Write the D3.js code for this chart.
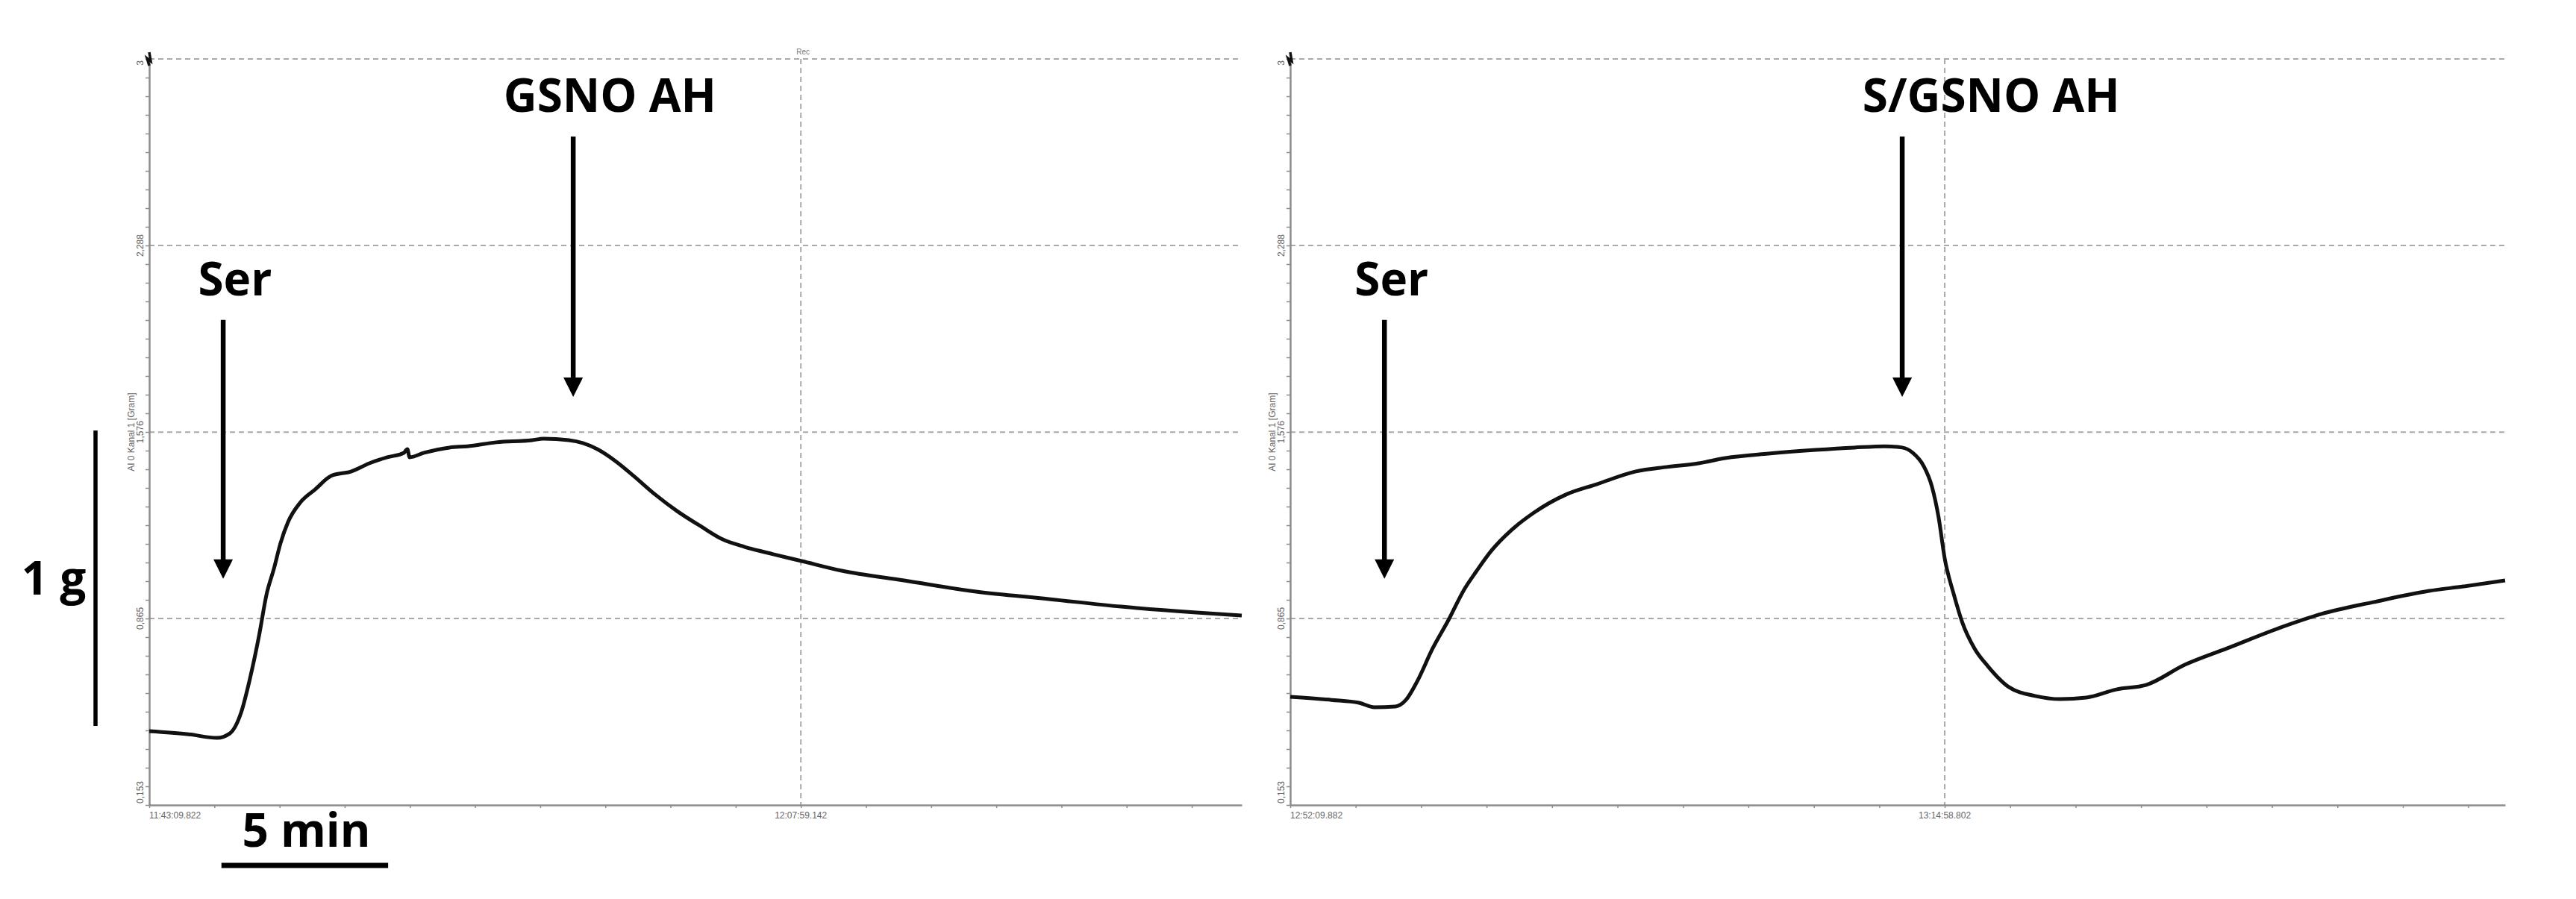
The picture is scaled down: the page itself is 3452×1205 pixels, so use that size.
<!DOCTYPE html>
<html>
<head>
<meta charset="utf-8">
<script src="https://cdn.jsdelivr.net/npm/d3@7"></script>
<style>
  body { margin: 0; background: #fff; }
  svg { display: block; }
</style>
</head>
<body>
<div id="chart"></div>
<script>
// time = seconds since the start of each recording, force = grams
const yTicks = [0.153, 0.865, 1.576, 2.288, 3];
const yTickLabels = ["0,153", "0,865", "1,576", "2,288", "3"];
const yTitle = "AI 0 Kanal 1 [Gram]";

const leftTimeLabels = ["11:43:09.822", "12:07:59.142"];
const leftMarkT = 1489.32;
const leftEndT = 2497;
const leftT = [0, 90, 155, 184, 210, 230, 251, 268, 285, 300, 317, 346, 379, 416, 462, 503, 544, 582, 590, 595, 628, 686, 727, 793, 875, 901, 959, 991, 1024, 1066, 1107, 1157, 1206, 1262, 1310, 1361, 1426, 1491, 1583, 1725, 1890, 2056, 2221, 2387, 2497];
const leftG = [0.435, 0.423, 0.409, 0.426, 0.506, 0.634, 0.799, 0.956, 1.055, 1.152, 1.232, 1.309, 1.357, 1.409, 1.426, 1.457, 1.480, 1.497, 1.511, 1.480, 1.497, 1.517, 1.522, 1.537, 1.545, 1.551, 1.545, 1.534, 1.511, 1.465, 1.409, 1.337, 1.275, 1.215, 1.167, 1.138, 1.110, 1.084, 1.047, 1.010, 0.967, 0.939, 0.910, 0.888, 0.876];

const rightTimeLabels = ["12:52:09.882", "13:14:58.802"];
const rightMarkT = 1368.92;
const rightEndT = 2541;
const rightT = [0, 86, 144, 176, 220, 242, 265, 298, 331, 364, 389, 421, 462, 510, 576, 641, 723, 788, 854, 910, 1000, 1099, 1180, 1244, 1280, 1302, 1325, 1342, 1356, 1369, 1388, 1406, 1431, 1459, 1503, 1558, 1611, 1665, 1728, 1790, 1871, 1960, 2068, 2157, 2265, 2382, 2454, 2541];
const rightG = [0.566, 0.554, 0.543, 0.526, 0.529, 0.554, 0.623, 0.751, 0.859, 0.976, 1.044, 1.124, 1.201, 1.269, 1.337, 1.377, 1.426, 1.443, 1.457, 1.477, 1.494, 1.508, 1.517, 1.522, 1.517, 1.497, 1.446, 1.369, 1.252, 1.093, 0.956, 0.848, 0.751, 0.683, 0.603, 0.569, 0.557, 0.563, 0.594, 0.611, 0.688, 0.751, 0.828, 0.882, 0.927, 0.970, 0.987, 1.010];

// additions: arrow time, arrow top / tip (g), label time and label baseline (g)
const leftNotes = [
  { label: "Ser", t: 169, top: 2.004, tip: 1.016, labelT: 196, labelG: 2.097 },
  { label: "GSNO AH", t: 969, top: 2.704, tip: 1.710, labelT: 1053, labelG: 2.798 }
];
const rightNotes = [
  { label: "Ser", t: 197, top: 2.004, tip: 1.016, labelT: 212, labelG: 2.097 },
  { label: "S/GSNO AH", t: 1280, top: 2.704, tip: 1.710, labelT: 1466, labelG: 2.798 }
];

// scale bars as drawn in the figure (left panel units)
const barG = [0.455, 1.582];
const barT = [165, 546];

const W = 3452, H = 1205;
const yTopPx = 79, yBotPx = 1079;
const axisColor = "#8c8c8c", gridColor = "#a9a9a9", textColor = "#666";
const boldFont = "'Open Sans', 'Noto Sans', sans-serif";
const smallFont = "'Liberation Sans', Arial, sans-serif";
const bigSize = "62px";

const svg = d3.select("#chart").append("svg")
  .attr("width", W).attr("height", H)
  .style("background", "#fff");

const y = d3.scaleLinear().domain([0.153, 3]).range([yBotPx, yTopPx]);
const yMinor = d3.range(41).map(i => 0.153 + i * (3 - 0.153) / 40);

function drawPanel(p) {
  const x = d3.scaleLinear().domain([0, p.endT]).range([p.x0, p.x1]);
  const g = svg.append("g");

  // dashed grid
  g.selectAll(".hgrid").data(yTicks.slice(1)).join("line")
    .attr("x1", p.x0).attr("x2", p.x1)
    .attr("y1", d => y(d)).attr("y2", d => y(d))
    .attr("stroke", gridColor).attr("stroke-width", 2).attr("stroke-dasharray", "7,5");
  g.append("line")
    .attr("x1", x(p.markT)).attr("x2", x(p.markT))
    .attr("y1", y(3)).attr("y2", y(0.153))
    .attr("stroke", gridColor).attr("stroke-width", 2).attr("stroke-dasharray", "7,5");

  // axes with the small minor ticks
  const xMinor = d3.range(0, p.endT, p.markT / 10);
  const xa = g.append("g").attr("transform", `translate(0,${yBotPx})`)
    .call(d3.axisBottom(x).tickValues(xMinor).tickSize(4).tickSizeOuter(0).tickFormat(""));
  const ya = g.append("g").attr("transform", `translate(${p.x0},0)`)
    .call(d3.axisLeft(y).tickValues(yMinor).tickSize(5).tickSizeOuter(0).tickFormat(""));
  [xa, ya].forEach(a => {
    a.select(".domain").attr("stroke", axisColor).attr("stroke-width", 2.5);
    a.selectAll(".tick line").attr("stroke", axisColor).attr("stroke-width", 1.5);
  });

  // marker at the top of the y axis
  g.append("path")
    .attr("d", `M${p.x0},${yTopPx + 9} l-3,-10 l5,4 l-2,-12`)
    .attr("fill", "none").attr("stroke", "#111").attr("stroke-width", 3.5)
    .attr("stroke-linejoin", "miter");

  // y tick labels, rotated
  yTicks.forEach((v, i) => {
    let anchor = "middle", py = y(v);
    if (i === 0) { anchor = "start"; py = y(v) - 2; }
    if (i === yTicks.length - 1) { anchor = "end"; py = y(v) + 2; }
    g.append("text")
      .attr("transform", `translate(${p.x0 - 8},${py}) rotate(-90)`)
      .attr("text-anchor", anchor)
      .style("font-family", smallFont).style("font-size", "12px")
      .attr("fill", textColor).text(yTickLabels[i]);
  });
  g.append("text")
    .attr("transform", `translate(${p.x0 - 20},${y(1.576)}) rotate(-90)`)
    .attr("text-anchor", "middle")
    .style("font-family", smallFont).style("font-size", "12px")
    .attr("fill", textColor).text(yTitle);

  // time labels
  g.append("text").attr("x", x(0)).attr("y", yBotPx + 18)
    .style("font-family", smallFont).style("font-size", "12px")
    .attr("fill", textColor).text(p.timeLabels[0]);
  g.append("text").attr("x", x(p.markT)).attr("y", yBotPx + 18)
    .attr("text-anchor", "middle")
    .style("font-family", smallFont).style("font-size", "12px")
    .attr("fill", textColor).text(p.timeLabels[1]);
  if (p.rec) {
    g.append("text").attr("x", x(p.markT) + 3).attr("y", yTopPx - 6)
      .attr("text-anchor", "middle")
      .style("font-family", smallFont).style("font-size", "10px")
      .attr("fill", "#777").text("Rec");
  }

  // force trace
  const line = d3.line()
    .x(d => x(d[0])).y(d => y(d[1]))
    .curve(d3.curveMonotoneX);
  g.append("path").datum(d3.zip(p.t, p.g))
    .attr("fill", "none").attr("stroke", "#111")
    .attr("stroke-width", 5).attr("stroke-linejoin", "round")
    .attr("d", line);

  // addition arrows
  const headW = 13, headH = 26;
  p.notes.forEach(n => {
    const ax = x(n.t);
    g.append("line")
      .attr("x1", ax).attr("x2", ax)
      .attr("y1", y(n.top)).attr("y2", y(n.tip) - headH + 2)
      .attr("stroke", "#000").attr("stroke-width", 6.5);
    g.append("path")
      .attr("d", `M${ax - headW},${y(n.tip) - headH} L${ax + headW},${y(n.tip) - headH} L${ax},${y(n.tip)} Z`)
      .attr("fill", "#000");
    g.append("text")
      .attr("x", x(n.labelT)).attr("y", y(n.labelG))
      .attr("text-anchor", "middle")
      .style("font-family", boldFont).style("font-weight", "bold").style("font-size", bigSize)
      .attr("fill", "#000").text(n.label);
  });

  return x;
}

const xLeft = drawPanel({
  x0: 200, x1: 1664, endT: leftEndT, markT: leftMarkT,
  t: leftT, g: leftG, notes: leftNotes, timeLabels: leftTimeLabels, rec: true
});
drawPanel({
  x0: 1729, x1: 3357, endT: rightEndT, markT: rightMarkT,
  t: rightT, g: rightG, notes: rightNotes, timeLabels: rightTimeLabels, rec: false
});

// 1 g scale bar
svg.append("line")
  .attr("x1", 128).attr("x2", 128)
  .attr("y1", y(barG[0])).attr("y2", y(barG[1]))
  .attr("stroke", "#000").attr("stroke-width", 5.5);
svg.append("text")
  .attr("x", 72).attr("y", (y(barG[0]) + y(barG[1])) / 2 + 22)
  .attr("text-anchor", "middle")
  .style("font-family", boldFont).style("font-weight", "bold").style("font-size", bigSize)
  .text("1 g");

// 5 min scale bar
svg.append("line")
  .attr("x1", xLeft(barT[0])).attr("x2", xLeft(barT[1]))
  .attr("y1", 1160).attr("y2", 1160)
  .attr("stroke", "#000").attr("stroke-width", 7);
svg.append("text")
  .attr("x", (xLeft(barT[0]) + xLeft(barT[1])) / 2 + 2).attr("y", 1135)
  .attr("text-anchor", "middle")
  .style("font-family", boldFont).style("font-weight", "bold").style("font-size", bigSize)
  .text("5 min");
</script>
</body>
</html>
